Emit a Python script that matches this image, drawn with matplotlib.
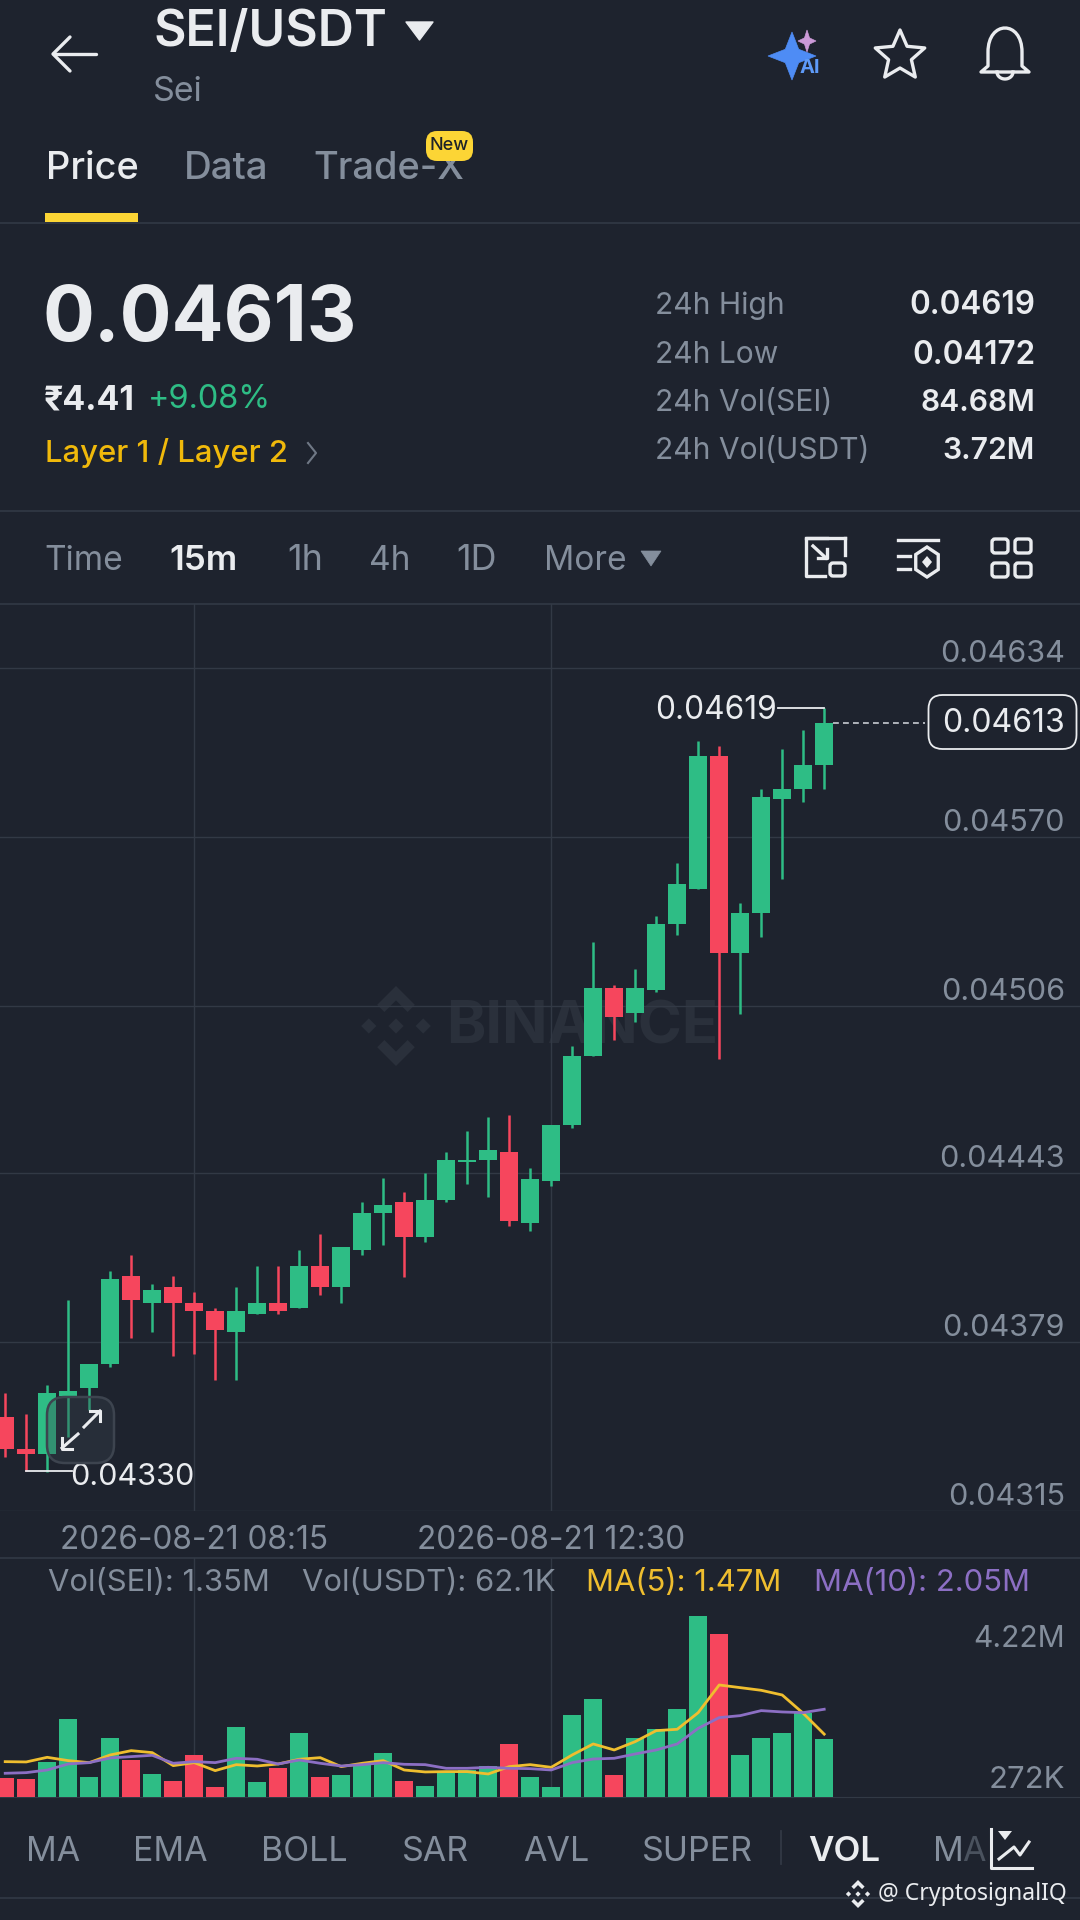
import matplotlib
matplotlib.use("Agg")
import matplotlib.pyplot as plt
from matplotlib.patches import FancyBboxPatch, Polygon, PathPatch, Rectangle
from matplotlib.path import Path
import numpy as np

# ---------- data ----------
opens = [0.043506,0.043385,0.043366,0.043586,0.043615,0.043706,0.044038,0.043937,0.043998,0.043937,
         0.043907,0.043826,0.043897,0.043937,0.043917,0.044077,0.043998,0.044138,0.044278,0.044318,
         0.044188,0.044328,0.044471,0.044478,0.044507,0.044239,0.044399,0.044609,0.044871,0.045130,
         0.045033,0.045122,0.045371,0.045504,0.046005,0.045260,0.045412,0.045844,0.045883,0.045973]
highs = [0.043595,0.043516,0.043626,0.043948,0.043706,0.044057,0.044117,0.044008,0.044038,0.043977,
         0.043917,0.043998,0.044077,0.044077,0.044138,0.044198,0.044148,0.044319,0.044409,0.044358,
         0.044428,0.044507,0.044588,0.044639,0.044649,0.044447,0.044609,0.044910,0.045302,0.045141,
         0.045201,0.045402,0.045603,0.046065,0.046045,0.045452,0.045883,0.046035,0.046105,0.046190]
lows = [0.043356,0.043300,0.043298,0.043431,0.043532,0.043696,0.043806,0.043826,0.043737,0.043745,
        0.043646,0.043646,0.043897,0.043897,0.043917,0.043967,0.043937,0.044119,0.044157,0.044037,
        0.044169,0.044319,0.044389,0.044338,0.044228,0.044208,0.044381,0.044598,0.044871,0.044932,
        0.045002,0.045113,0.045330,0.045504,0.044859,0.045031,0.045323,0.045543,0.045834,0.045883]
closes = [0.043386,0.043366,0.043595,0.043605,0.043706,0.044028,0.043947,0.043988,0.043937,0.043907,
          0.043836,0.043907,0.043937,0.043907,0.044077,0.043998,0.044148,0.044278,0.044308,0.044188,
          0.044328,0.044478,0.044478,0.044517,0.044249,0.044408,0.044609,0.044871,0.045130,0.045021,
          0.045130,0.045371,0.045521,0.046005,0.045260,0.045412,0.045853,0.045883,0.045973,0.046130]
volumes = [0.458,0.427,0.830,1.816,0.466,1.374,0.869,0.535,0.388,0.986,
           0.241,1.630,0.349,0.683,1.490,0.466,0.512,0.745,1.024,0.388,
           0.264,0.598,0.636,0.729,1.242,0.481,0.241,1.924,2.281,0.528,
           1.389,1.599,2.064,4.220,3.795,0.993,1.389,1.490,1.956,1.350]
ma5 = [0.830,0.823,0.931,0.854,0.807,0.986,1.086,1.040,0.737,0.807,
       0.621,0.760,0.729,0.776,0.885,0.923,0.714,0.792,0.854,0.636,
       0.590,0.598,0.598,0.543,0.714,0.760,0.698,0.986,1.242,1.102,
       1.296,1.552,1.583,1.971,2.615,2.553,2.491,2.382,1.956,1.470]
ma10 = [0.559,0.574,0.636,0.776,0.807,0.916,0.947,0.978,0.792,0.830,
        0.807,0.908,0.885,0.776,0.869,0.792,0.729,0.760,0.807,0.768,
        0.760,0.675,0.675,0.698,0.675,0.667,0.636,0.807,0.892,0.908,
        1.009,1.102,1.242,1.606,1.855,1.901,2.018,1.987,1.971,2.050]
price_ticks = [0.04634,0.04570,0.04506,0.04443,0.04379,0.04315]
time_tick_pos = [9,26]
time_tick_labels = ["2026-08-21 08:15","2026-08-21 12:30"]

BG="#1E232E"; GRID="#323945"; GREEN="#2EBD85"; RED="#F6465D"
GREY="#848E9C"; WHITE="#EAECEF"; YEL="#F0B90B"; PUR="#8C6FC4"; MA5C="#EFBE2F"
FONT=["Inter","DejaVu Sans"]
plt.rcParams['font.family']=FONT

W,H=1080,1920
fig=plt.figure(figsize=(W/100,H/100),dpi=100,facecolor=BG)

def box(top,bottom):
    return [0,1-bottom/H,1,(bottom-top)/H]

bg=fig.add_axes([0,0,1,1],zorder=0); bg.set_xlim(0,W); bg.set_ylim(H,0); bg.axis('off')
ov=fig.add_axes([0,0,1,1],zorder=5); ov.set_xlim(0,W); ov.set_ylim(H,0); ov.axis('off'); ov.patch.set_alpha(0)

def T(x,y,s,px,color=WHITE,weight='normal',ha='left',ax=ov,**kw):
    return ax.text(x,y+3,s,fontsize=px*0.72,color=color,fontweight=weight,ha=ha,va='center',**kw)

def logo(ax,cx,cy,s,color,z=1):
    top=[(0,-1),(.47,-.53),(.29,-.35),(0,-.64),(-.29,-.35),(-.47,-.53)]
    polys=[top,[(x,-y) for x,y in top],
           [(0,-.19),(.19,0),(0,.19),(-.19,0)],
           [(-.68,-.19),(-.49,0),(-.68,.19),(-.87,0)],
           [(.68,-.19),(.87,0),(.68,.19),(.49,0)]]
    for p in polys:
        ax.add_patch(Polygon([(cx+x*s,cy+y*s) for x,y in p],closed=True,fc=color,ec='none',zorder=z))

# watermark
logo(bg,396,1026,40,"#2A303B")
bg.text(582,1028,"BINANCE",fontsize=43,fontweight='bold',color="#2A303B",ha='center',va='center')

XL=(-0.248,51.181)
# price axes
ax=fig.add_axes(box(604,1511),zorder=1); ax.patch.set_alpha(0)
ax.set_xlim(*XL); ax.set_ylim(0.04315,0.046582)
for s in ax.spines.values(): s.set_visible(False)
ax.set_axisbelow(True)
ax.grid(True,color=GRID,lw=1.0)
ax.set_xticks(time_tick_pos); ax.set_xticklabels(time_tick_labels)
ax.yaxis.tick_right()
ax.set_yticks(price_ticks); ax.set_yticklabels([f"{p:.5f}" for p in price_ticks])
ax.tick_params(axis='x',length=0,pad=10,labelsize=22.7,labelcolor=GREY)
ax.tick_params(axis='y',length=0,pad=-10.8,labelsize=22,labelcolor=GREY)
for l in ax.get_yticklabels():
    l.set_ha('right'); l.set_va('bottom')
x=np.arange(len(opens))
o=np.array(opens); c=np.array(closes); hi=np.array(highs); lo=np.array(lows)
cols=[GREEN if a>=b else RED for a,b in zip(c,o)]
ax.vlines(x,lo,hi,colors=cols,lw=1.8,zorder=3)
ax.bar(x,np.maximum(np.abs(c-o),2e-6),bottom=np.minimum(o,c),width=0.867,color=cols,zorder=4)
# high / low / last annotations
ax.plot([36.8,39],[0.04619,0.04619],color=WHITE,lw=1.3,zorder=5)
ax.text(36.75,0.04618,"0.04619",fontsize=22.8,color=WHITE,ha='right',va='center',zorder=6)
ax.plot([1,3.2],[0.04330,0.04330],color=WHITE,lw=1.3,zorder=5)
ax.text(3.1,0.04328,"0.04330",fontsize=22,color=WHITE,ha='left',va='center',zorder=6)
ax.plot([39.4,43.8],[0.04613,0.04613],color="#C8CCD2",lw=1.2,ls=(0,(3.5,2.5)),zorder=5)
ov.add_patch(FancyBboxPatch((938.5,705),128,34,boxstyle="round,pad=10,rounding_size=14",fc=BG,ec=WHITE,lw=1.3,zorder=6))
T(1065,721,"0.04613",32,WHITE,ha='right',zorder=7)

# volume axes
vx=fig.add_axes(box(1558,1797.3),zorder=1); vx.patch.set_alpha(0)
vx.set_xlim(*XL); vx.set_ylim(0,5.571)
for k,s in vx.spines.items(): s.set_visible(k=='bottom')
vx.spines['bottom'].set_color(GRID)
vx.set_axisbelow(True)
vx.set_xticks(time_tick_pos); vx.set_xticklabels([]); vx.set_yticks([])
vx.tick_params(axis='x',length=0)
vx.grid(True,axis='x',color=GRID,lw=1.0)
vx.bar(x,volumes,width=0.867,color=cols,zorder=3)
vx.plot(x,ma5,color=MA5C,lw=2.0,zorder=4,solid_joinstyle='round')
vx.plot(x,ma10,color=PUR,lw=2.0,zorder=5,solid_joinstyle='round')
T(1065,1636,"4.22M",30,GREY,ha='right')
T(1065,1777,"272K",31,GREY,ha='right')

# separators
for y in [222.5,511,603.5,1557.7,1898]:
    bg.plot([0,W],[y,y],color=GRID,lw=1.2,zorder=0)

# header
T(153,30,"SEI/USDT",50,WHITE,'semibold')
ov.add_patch(Polygon([(406,22),(433,22),(419.5,40)],fc=WHITE,ec=WHITE,lw=1,joinstyle='round'))
T(153,89,"Sei",34,GREY)
ov.plot([54,96],[54,54],color=WHITE,lw=2.4,solid_capstyle='round')
ov.plot([70,53,70],[37,54,71],color=WHITE,lw=2.4,solid_capstyle='round',solid_joinstyle='round')

def sparkle(cx,cy,rx,ry,color):
    k=0.28
    ov.add_patch(Polygon([(cx,cy-ry),(cx+rx*k,cy-ry*k),(cx+rx,cy),(cx+rx*k,cy+ry*k),
                          (cx,cy+ry),(cx-rx*k,cy+ry*k),(cx-rx,cy),(cx-rx*k,cy-ry*k)],fc=color,ec=color,lw=.5))
sparkle(792,56,24,24,"#4E8CF5")
sparkle(807,41,9,11,"#CC9AD8")
T(810,65,"AI",20,"#5E9AF8",'bold',ha='center')

ang=np.linspace(-np.pi/2,1.5*np.pi,11)[:-1]
rad=np.where(np.arange(10)%2==0,26,12)
ov.add_patch(Polygon(np.c_[900+rad*np.cos(ang),56+rad*np.sin(ang)],fc='none',ec=WHITE,lw=2.4,joinstyle='round'))

bell=Path([(981,72),(988,66),(988,52),(988,52),(988,20),(1022,20),(1022,52),(1022,66),(1029,72),(1029,72),(981,72)],
          [Path.MOVETO,Path.LINETO,Path.LINETO,Path.LINETO,Path.CURVE4,Path.CURVE4,Path.CURVE4,Path.LINETO,Path.LINETO,Path.LINETO,Path.CLOSEPOLY])
ov.add_patch(PathPatch(bell,fc='none',ec=WHITE,lw=2.4,joinstyle='round'))
th=np.linspace(0,np.pi,20)
ov.plot(1005+8*np.cos(th),72+7*np.sin(th),color=WHITE,lw=2.4)

# tabs
T(46,166,"Price",38,WHITE,'medium')
T(184,166,"Data",38.5,GREY,'medium')
T(313,166,"Trade-X",38,GREY,'medium')
ov.add_patch(FancyBboxPatch((435,140),29,12,boxstyle="round,pad=9,rounding_size=11",fc="#FCD535",ec='none',zorder=8))
T(449.5,143,"New",18,"#1E2329",'medium',ha='center',zorder=9)
ov.add_patch(Rectangle((45,213),93,9,fc="#FCD535",ec='none'))

# price block
T(42,318,"0.04613",77,WHITE,'bold')
T(44,397,"₹4.41",34,WHITE,'bold')
T(148,397,"+9.08%",32.5,GREEN)
T(45,450,"Layer 1 / Layer 2",31,YEL,'medium')
ov.plot([308,316,308],[443,453,463],color=GREY,lw=1.5,alpha=.8)
for yy,a,b,sz in [(303,"24h High","0.04619",31.5),(352,"24h Low","0.04172",31.5),(400,"24h Vol(SEI)","84.68M",30),(448,"24h Vol(USDT)","3.72M",30)]:
    T(655,yy,a,30,GREY)
    T(1035,yy,b,sz,WHITE,'semibold',ha='right')

# interval row
for xx,s,cc,wt,sz in [(44,"Time",GREY,'normal',33.5),(169,"15m",WHITE,'semibold',35),(287,"1h",GREY,'normal',36),
                   (369,"4h",GREY,'normal',33.5),(456,"1D",GREY,'normal',36),(544,"More",GREY,'normal',33.5)]:
    T(xx,558,s,sz,cc,wt)
ov.add_patch(Polygon([(641,551),(661,551),(651,566)],fc=GREY,ec=GREY,lw=.5))

lw=2.4
def rr(x0,y0,w,h,r=3,col=WHITE,l=lw):
    ov.add_patch(FancyBboxPatch((x0+r,y0+r),w-2*r,h-2*r,boxstyle=f"round,pad={r},rounding_size={r}",fc='none',ec=col,lw=l))
ov.plot([827,806,806,825],[538,538,576,576],color=WHITE,lw=lw)
ov.plot([845,845],[538,555],color=WHITE,lw=lw)
ov.plot([806,845],[538,538],color=WHITE,lw=lw)
rr(830,563,15,13)
ov.plot([813,826],[546,558],color=WHITE,lw=lw)
ov.plot([818,827,827],[558,558,549],color=WHITE,lw=lw)

ov.plot([898,938],[540,540],color=WHITE,lw=lw)
ov.plot([898,910],[556,556],color=WHITE,lw=lw)
ov.plot([898,910],[569,569],color=WHITE,lw=lw)
a6=np.linspace(-np.pi/2,1.5*np.pi,7)[:-1]
ov.add_patch(Polygon(np.c_[927+13*np.cos(a6),562+15*np.sin(a6)],fc='none',ec=WHITE,lw=lw))
ov.add_patch(Polygon([(927,556),(932,562),(927,568),(922,562)],fc=WHITE,ec='none'))
for xx in (992,1015):
    for yy in (539,563):
        rr(xx,yy,16,14)

# volume header
T(48,1580,"Vol(SEI): 1.35M",31,GREY)
T(302,1580,"Vol(USDT): 62.1K",31,GREY)
T(586,1580,"MA(5): 1.47M",31,MA5C)
T(814,1580,"MA(10): 2.05M",31,PUR)

# expand button
ov.add_patch(FancyBboxPatch((63,1413),35,34,boxstyle="round,pad=16,rounding_size=18",fc="#3A4450",alpha=.35,ec='none'))
ov.add_patch(FancyBboxPatch((63,1413),35,34,boxstyle="round,pad=16,rounding_size=18",fc='none',ec="#3D444F",lw=1.8))
ov.plot([62,78],[1448,1434],color=WHITE,lw=2.2)
ov.plot([62,62,72],[1438,1449,1449],color=WHITE,lw=2.2)
ov.plot([84,100],[1427,1411],color=WHITE,lw=2.2)
ov.plot([90,100,100],[1411,1411,1421],color=WHITE,lw=2.2)

# bottom tabs
for xx,s,cc,wt,sz in [(26,"MA",GREY,'normal',34),(133,"EMA",GREY,'normal',34),(261,"BOLL",GREY,'normal',34),(402,"SAR",GREY,'normal',34),
                   (523,"AVL",GREY,'normal',34),(642,"SUPER",GREY,'normal',34),(808,"VOL",WHITE,'semibold',35),(933,"M",GREY,'normal',34),(962,"A","#4A525E",'normal',34)]:
    T(xx,1849,s,sz,cc,wt)
ov.plot([781,781],[1831,1864],color=GRID,lw=1.3)
ov.plot([991,991,1032],[1829,1868,1868],color=WHITE,lw=2.2)
ov.add_patch(Polygon([(998,1831),(1012,1831),(1005,1840)],fc=WHITE,ec='none'))
ov.plot([999,1014,1020,1029],[1859,1847,1855,1842],color=WHITE,lw=2.2)

# footer watermark
logo(ov,858,1894,14,WHITE)
T(878,1891,"@ CryptosignalIQ",23,WHITE,family=["Noto Sans","DejaVu Sans"])

fig.savefig("out.png",dpi=100,facecolor=BG)
